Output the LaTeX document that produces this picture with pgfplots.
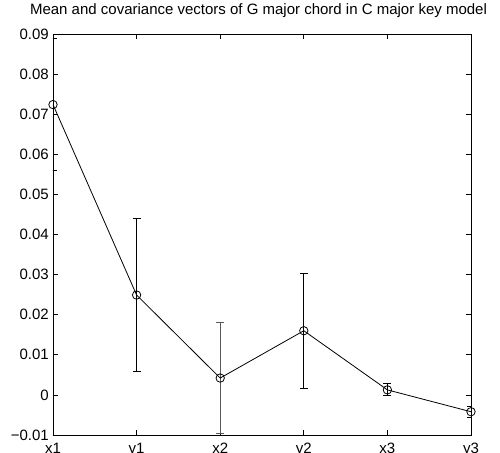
\documentclass[border=0pt]{standalone}
\usepackage{fontspec}
\setmainfont{Liberation Sans}
\usepackage{pgfplots}
\pgfplotsset{compat=1.18}
\begin{document}
\fontsize{15bp}{18bp}\selectfont
\begin{tikzpicture}
\begin{axis}[
  scale only axis,
  width=418bp, height=401bp,
  xmin=1, xmax=6, ymin=-0.01, ymax=0.09,
  scaled y ticks=false,
  xtick={1,2,3,4,5,6},
  xticklabels={x1,y1,x2,y2,x3,y3},
  ytick={-0.01,0,0.01,0.02,0.03,0.04,0.05,0.06,0.07,0.08,0.09},
  yticklabels={−0.01,0,0.01,0.02,0.03,0.04,0.05,0.06,0.07,0.08,0.09},
  tick align=inside, tick pos=both,
  major tick length=5bp,
  every tick/.style={black, line width=0.7bp},
  axis line style={black, line width=0.9bp},
  /pgf/number format/assume math mode=true,
  ticklabel style={font=\fontsize{15bp}{18bp}\selectfont},
  yticklabel style={inner sep=0pt, xshift=-4bp},
  xticklabel style={inner sep=0pt, yshift=-8bp},
  title={Mean and covariance vectors of G major chord in C major key model},
  title style={font=\fontsize{15bp}{18bp}\selectfont, at={(0.5,1)}, anchor=base, yshift=14bp, xshift=-3.5bp, inner sep=0pt},
]
% error bars (black)
\addplot[black, line width=0.8bp, draw=none, mark=none,
  error bars/.cd, y dir=both, y explicit,
  error bar style={black, line width=0.8bp},
  error mark options={rotate=90, mark size=4bp, black, line width=0.8bp}]
  coordinates {
  (1,0.0724) +- (0,0.0165)
  (2,0.0249) +- (0,0.0190)
  (4,0.0160) +- (0,0.0143)
  (5,0.00125) +- (0,0.0015)
  (6,-0.0042) +- (0,0.0013)
  };
% error bar at x2 (grey)
\addplot[draw=none, mark=none,
  error bars/.cd, y dir=both, y explicit,
  error bar style={black!65, line width=1.2bp},
  error mark options={rotate=90, mark size=4bp, black!65, line width=1.2bp}]
  coordinates {
  (3,0.0042) +- (0,0.0138)
  };
% mean line with circle markers
\addplot[black, line width=0.8bp, mark=o, mark size=4.2bp,
  mark options={solid, line width=0.8bp}]
  coordinates {
  (1,0.0724) (2,0.0249) (3,0.0042) (4,0.0160) (5,0.00125) (6,-0.0042)
  };
\end{axis}
\pgfresetboundingbox
\path[use as bounding box] ([xshift=-53bp,yshift=-18bp]current axis.south west) rectangle ([xshift=29bp,yshift=34bp]current axis.north east);
\end{tikzpicture}
\end{document}
